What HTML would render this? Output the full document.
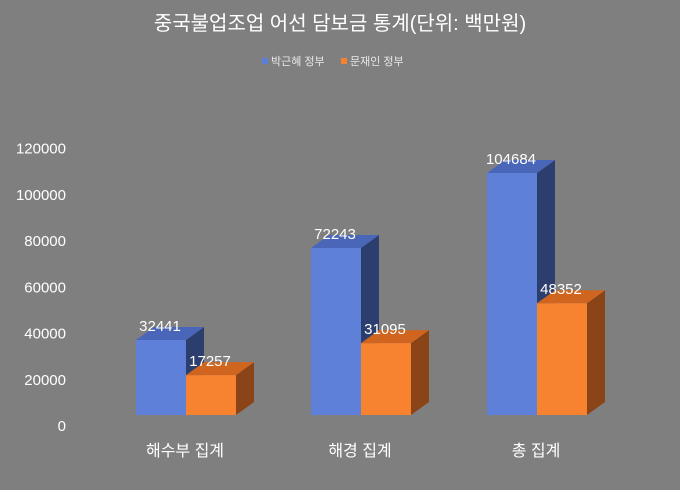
<!DOCTYPE html>
<html><head><meta charset="utf-8">
<style>
body{margin:0;background:#7f7f7f;}
svg{display:block;font-family:"Liberation Sans","Noto Sans CJK KR",sans-serif;}
</style></head>
<body>
<svg id="chart" width="680" height="490" viewBox="0 0 680 490">
<rect width="680" height="490" fill="#7f7f7f"/>
<text x="340" y="30" text-anchor="middle" fill="#fff" font-size="20">중국불업조업 어선 담보금 통계(단위: 백만원)</text>
<g>
<rect x="262" y="58" width="6" height="6" fill="#5b7fd9"/>
<text x="271" y="65" fill="#e8e8e8" font-size="11">박근혜 정부</text>
<rect x="341" y="58" width="6" height="6" fill="#f5822e"/>
<text x="350" y="65" fill="#e8e8e8" font-size="11">문재인 정부</text>
</g>
<g id="yaxis"></g>
<g id="bars"></g>
<g id="xaxis"></g>
</svg>
<script>
const categories = ["해수부 집계", "해경 집계", "총 집계"];
const parkValues = [32441, 72243, 104684];
const moonValues = [17257, 31095, 48352];
const yTicks = [0, 20000, 40000, 60000, 80000, 100000, 120000];

const NS = "http://www.w3.org/2000/svg";
const base = 415, scale = 242 / 104684;
const dx = 18, dy = 13, bw = 50;
const groupX = [136, 311, 487];
function y(v){ return base - v * scale; }
function mk(tag, attrs, parent){ const e = document.createElementNS(NS, tag); for (const k in attrs) e.setAttribute(k, attrs[k]); parent.appendChild(e); return e; }

const ya = document.getElementById("yaxis");
yTicks.forEach(t => {
  const e = mk("text", {x: 66, y: y(t) - dy + 29, "text-anchor": "end", fill: "#fff", "font-size": 15}, ya);
  
  
  e.textContent = t;
});

const bars = document.getElementById("bars");
function bar(x, v, front, top, side, name){
  const g = mk("g", {}, bars);
  
  
  const yt = y(v);
  mk("polygon", {points: `${x+bw},${yt} ${x+bw+dx},${yt-dy} ${x+bw+dx},${base-dy} ${x+bw},${base}`, fill: side}, g);
  mk("polygon", {points: `${x},${yt} ${x+dx},${yt-dy} ${x+bw+dx},${yt-dy} ${x+bw},${yt}`, fill: top}, g);
  mk("rect", {x: x, y: yt, width: bw, height: base - yt, fill: front}, g);
}
function label(x, v, name){
  const e = mk("text", {x: x + 24, y: y(v) - 9, "text-anchor": "middle", fill: "#fff", "font-size": 15}, bars);
  
  
  e.textContent = v;
}
categories.forEach((c, i) => {
  const x = groupX[i];
  bar(x, parkValues[i], "#5e80d8", "#4a66b8", "#2c3e6e", "bar-park-" + i);
  bar(x + bw, moonValues[i], "#f7822f", "#d0651f", "#8a4418", "bar-moon-" + i);
  label(x, parkValues[i], "value-label-park-" + i);
  label(x + bw, moonValues[i], "value-label-moon-" + i);
  const t = mk("text", {x: x + bw - 1, y: 456, "text-anchor": "middle", fill: "#fff", "font-size": 16}, document.getElementById("xaxis"));
  
  
  t.textContent = c;
});
</script>
</body></html>
